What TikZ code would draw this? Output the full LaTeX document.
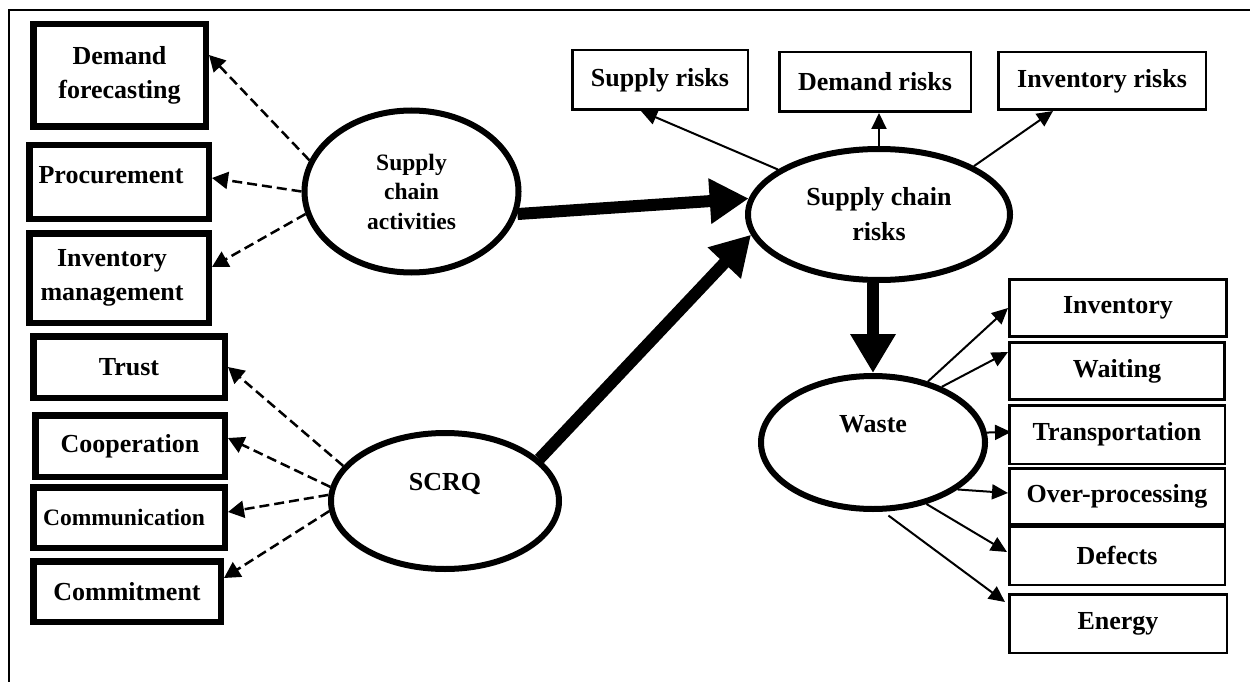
\documentclass[tikz,border=0pt]{standalone}
\usepackage{fontspec}
\setmainfont{Liberation Serif}
\usetikzlibrary{arrows.meta,shapes.geometric,calc}

\tikzset{
  txt/.style={font=\fontsize{26}{34}\selectfont\bfseries, align=center},
  txtsmall/.style={font=\fontsize{23.5}{29.5}\selectfont\bfseries, align=center},
  heavybox/.style={draw, line width=6.5pt, inner sep=0pt, txt},
  lightbox/.style={draw, line width=2.5pt, inner sep=0pt, txt},
  construct/.style={draw, ellipse, line width=6pt, inner sep=0pt, txt},
  bigarrow/.style={line width=12pt, -{Triangle[length=39pt,width=43pt]}},
  linkarrow/.style={line width=2pt, -{Triangle[length=16pt,width=15pt]}},
  dasharrow/.style={line width=2.5pt, dash pattern=on 10pt off 5pt,
                    -{Triangle[length=16pt,width=17pt]}},
}

\begin{document}
\begin{tikzpicture}[x=1pt, y=-1pt]
\useasboundingbox (0,0) rectangle (1250,682);

% outer frame (top and left rules)
\draw[line width=2pt] (1250,10) -- (9,10) -- (9,682);

% latent constructs
\node[construct, txtsmall, minimum width=214, minimum height=162] (sca) at (411.5,191.5) {Supply\\chain\\activities};
\node[construct, minimum width=228, minimum height=136] (scrq) at (445,501) {\raisebox{38pt}{SCRQ}};
\node[construct, font=\fontsize{26}{35}\selectfont\bfseries, minimum width=262, minimum height=131] (scr) at (879,214.5) {Supply chain\\risks};
\node[construct, minimum width=224, minimum height=133] (waste) at (873,442.5) {\raisebox{38pt}{Waste}};

% indicators of supply chain activities
\node[heavybox, minimum width=172.5, minimum height=102.5] (df) at (119.5,75.5) {Demand\\forecasting};
\node[heavybox, minimum width=179.5, minimum height=73.5] (proc) at (119,182) {\raisebox{14pt}{\hspace*{-16pt}Procurement}};
\node[heavybox, minimum width=179.5, minimum height=89.5] (invm) at (119,278) {\hspace*{-14pt}Inventory\\\hspace*{-14pt}management};

% indicators of SCRQ
\node[heavybox, minimum width=191.5, minimum height=61.5] (trust) at (129,367) {Trust};
\node[heavybox, minimum width=189.5, minimum height=61.5] (coop) at (130,446) {Cooperation};
\node[heavybox, txtsmall, minimum width=191.5, minimum height=60.5] (comm) at (129,517.5) {\hspace*{-10pt}Communication};
\node[heavybox, minimum width=187.5, minimum height=60.5] (commit) at (127,591.5) {Commitment};

% risk categories
\node[lightbox, minimum width=175.5, minimum height=59.5] (sr) at (660,80) {Supply risks};
\node[lightbox, minimum width=191.5, minimum height=59.5] (dr) at (875,82) {Demand risks};
\node[lightbox, minimum width=207.5, minimum height=57.5] (ir) at (1102,81) {Inventory risks};

% waste categories
\node[lightbox, line width=3pt, minimum width=217, minimum height=57] (inv) at (1118,308) {Inventory};
\node[lightbox, line width=3pt, minimum width=215, minimum height=57] (wait) at (1117,371) {Waiting};
\node[lightbox, minimum width=215.5, minimum height=58.5] (trans) at (1117,434.5) {Transportation};
\node[lightbox, minimum width=215.5, minimum height=55.5] (overp) at (1117,496) {Over-processing};
\node[lightbox, minimum width=215.5, minimum height=58.5] (defects) at (1117,555.5) {Defects};
\node[lightbox, minimum width=217.5, minimum height=58.5] (energy) at (1118,623.5) {Energy};

% structural paths
\draw[bigarrow] (sca.348.6) -- (scr.173);
\draw[bigarrow] (scrq.24.8) -- (scr.189.7);
\draw[bigarrow] (waste.north |- scr.south) -- (waste.north);

% measurement paths (dashed)
\draw[dasharrow] (sca.163.7) -- ($(df.east)+(0,-20.5)$);
\draw[dasharrow] (sca.180) -- ($(proc.east)+(0,-4)$);
\draw[dasharrow] (sca.192.8) -- ($(invm.east)+(0,-11)$);
\draw[dasharrow] (scrq.161.6) -- (trust.east);
\draw[dasharrow] (scrq.173.7) -- ($(coop.east)+(0,-8)$);
\draw[dasharrow] (scrq.177.6) -- ($(comm.east)+(0,-5.5)$);
\draw[dasharrow] (scrq.185.3) -- ($(commit.east)+(0,-13.5)$);

% risk categories
\draw[linkarrow] (scr.156.6) -- ($(sr.south)+(-19,0)$);
\draw[linkarrow] (scr.north) -- (scr.north |- dr.south);
\draw[linkarrow] (scr.27) -- ($(ir.south)+(-49,0)$);

% waste categories
\draw[linkarrow] (waste.48.1) -- (inv.west);
\draw[linkarrow] (waste.39.9) -- ($(wait.west)+(0,-19)$);
\draw[linkarrow] (waste.5.7) -- ($(trans.west)+(3,-2.5)$);
\draw[linkarrow] (waste.-29) -- ($(overp.west)+(0,-3)$);
\draw[linkarrow] (waste.-49.2) -- ($(defects.west)+(-1,-3.5)$);
\coordinate (energystart) at ($(waste.-79)+(2,4)$);
\draw[linkarrow] (energystart) -- ($(energy.west)+(-3,-21.5)$);
\end{tikzpicture}
\end{document}
